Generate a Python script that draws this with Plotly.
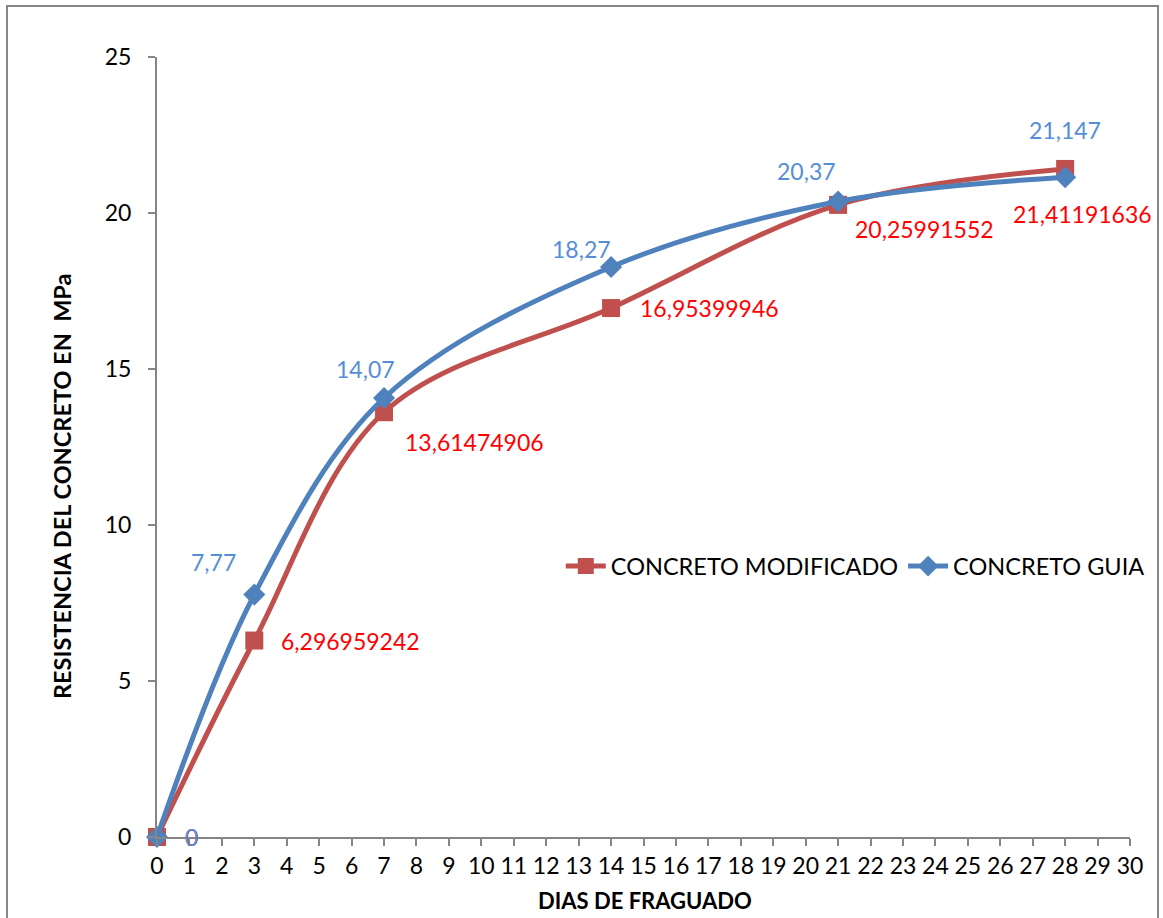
import plotly.graph_objects as go

# Setting age (days) and compressive strength (MPa)
dias = [0, 3, 7, 14, 21, 28]
modificado = [0, 6.296959242, 13.61474906, 16.95399946, 20.25991552, 21.41191636]
guia = [0, 7.77, 14.07, 18.27, 20.37, 21.147]

x_ticks = list(range(0, 31))
y_ticks = [0, 5, 10, 15, 20, 25]

RED = "#C0504D"
BLUE = "#4F81BD"
RED_TXT = "#FF0000"
BLUE_TXT = "#558ED5"
FONT = "Lato"

# label offsets in pixels (xshift, yshift) for each data label
mod_off = [(26, 0), (25, 0), (19, -30), (27, 0), (15, -24), (-54, -45)]
guia_off = [(26, 0), (-41, 33), (-19, 29), (-30, 18), (-32, 30), (0, 47)]


def fmt(v):
    return str(v).replace(".", ",")


fig = go.Figure()
fig.add_trace(go.Scatter(
    x=dias, y=modificado, name="CONCRETO MODIFICADO",
    mode="lines+markers",
    line=dict(color=RED, width=5, shape="spline", smoothing=1.0),
    marker=dict(symbol="square", size=18, color=RED),
    cliponaxis=False,
))
fig.add_trace(go.Scatter(
    x=dias, y=guia, name="CONCRETO GUIA",
    mode="lines+markers",
    line=dict(color=BLUE, width=5, shape="spline", smoothing=1.0),
    marker=dict(symbol="diamond", size=17, color=BLUE),
    cliponaxis=False,
))

annotations = []
for xv, yv, (dx, dy) in zip(dias, modificado, mod_off):
    annotations.append(dict(
        x=xv, y=yv, text=fmt(yv), showarrow=False, xanchor="left",
        yanchor="middle", xshift=dx, yshift=dy,
        font=dict(family=FONT, size=23, color=RED_TXT)))
for xv, yv, (dx, dy) in zip(dias, guia, guia_off):
    anchor = "left" if xv == 0 else "center"
    annotations.append(dict(
        x=xv, y=yv, text=fmt(yv), showarrow=False, xanchor=anchor,
        yanchor="middle", xshift=dx, yshift=dy,
        font=dict(family=FONT, size=23, color=BLUE_TXT)))

# axis titles as free text
annotations.append(dict(
    xref="paper", yref="paper", x=(62 - 157) / 973, y=(837 - 487) / 780,
    text="<b>RESISTENCIA DEL CONCRETO EN  MPa</b>", textangle=-90,
    showarrow=False, xanchor="center", yanchor="middle",
    font=dict(family=FONT, size=23.5, color="black")))
annotations.append(dict(
    xref="paper", yref="paper", x=(645 - 157) / 973, y=(837 - 900) / 780,
    text="<b>DIAS DE FRAGUADO</b>",
    showarrow=False, xanchor="center", yanchor="middle",
    font=dict(family=FONT, size=22, color="black")))

fig.update_layout(
    width=1163, height=918,
    margin=dict(l=157, r=33, t=57, b=81, autoexpand=False),
    paper_bgcolor="white", plot_bgcolor="white",
    font=dict(family=FONT, size=23, color="black"),
    showlegend=True,
    legend=dict(
        orientation="h", x=0.415, y=0.347, xanchor="left", yanchor="middle",
        font=dict(family=FONT, size=23.5, color="black"),
        bgcolor="rgba(0,0,0,0)", itemwidth=40, tracegroupgap=0,
    ),
    annotations=annotations,
    shapes=[dict(
        type="rect", xref="paper", yref="paper",
        x0=(7 - 157) / 973, x1=(1158 - 157) / 973,
        y0=-0.2, y1=(837 - 6) / 780,
        line=dict(color="#868686", width=2), fillcolor="rgba(0,0,0,0)",
        layer="below",
    )],
)

fig.update_xaxes(
    range=[0, 30], tickvals=x_ticks, ticktext=[str(t) for t in x_ticks],
    showgrid=False, zeroline=False, automargin=False,
    showline=True, linecolor="#868686", linewidth=2,
    ticks="outside", ticklen=7, tickcolor="#868686", tickwidth=2,
    tickfont=dict(family=FONT, size=23),
)
fig.update_yaxes(
    range=[0, 25], tickvals=y_ticks,
    showgrid=False, zeroline=False, automargin=False,
    showline=True, linecolor="#868686", linewidth=2,
    ticks="outside", ticklen=7, tickcolor="#868686", tickwidth=2,
    ticklabelstandoff=12,
    tickfont=dict(family=FONT, size=23),
)

fig.write_html("out.html")
